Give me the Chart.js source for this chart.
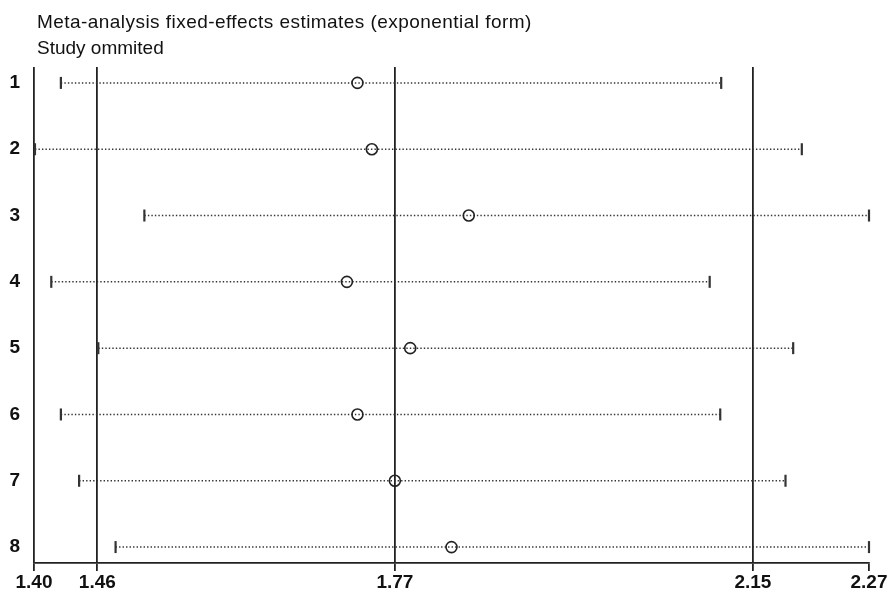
<!DOCTYPE html>
<html>
<head>
<meta charset="utf-8">
<script src="https://cdn.jsdelivr.net/npm/chart.js@4.4.1/dist/chart.umd.min.js"></script>
<style>
html,body{margin:0;padding:0;background:#fff;}
canvas{display:block;}
</style>
</head>
<body>
<canvas id="c" width="895" height="593"></canvas>
<script>
// Data
const studies   = ["1","2","3","4","5","6","7","8"];
const estimates = [1.737, 1.752, 1.853, 1.726, 1.792, 1.737, 1.776, 1.835];
const lowerCI   = [1.428, 1.401, 1.515, 1.418, 1.467, 1.428, 1.447, 1.485];
const upperCI   = [2.116, 2.200, 2.270, 2.104, 2.191, 2.115, 2.183, 2.270];
const xTickValues = [1.40, 1.466, 1.776, 2.149, 2.27];
const xTickLabels = ["1.40", "1.46", "1.77", "2.15", "2.27"];
const titleLines = ["Meta-analysis fixed-effects estimates (exponential form)", "Study ommited"];

const FONT = "'Liberation Sans', Arial, Helvetica, sans-serif";

const ciDatasets = studies.map((s, i) => ({
  type: 'line',
  label: 'CI ' + s,
  data: [{x: lowerCI[i], y: i + 1}, {x: upperCI[i], y: i + 1}],
  borderColor: '#333',
  borderWidth: 1.5,
  borderDash: [1.4, 2.1],
  pointRadius: 0,
  clip: false,
  order: 3
}));

const capData = [];
studies.forEach((s, i) => {
  capData.push({x: lowerCI[i], y: i + 1});
  capData.push({x: upperCI[i], y: i + 1});
});

const titlePlugin = {
  id: 'leftTitle',
  afterDraw(chart) {
    const ctx = chart.ctx;
    ctx.save();
    ctx.fillStyle = '#111';
    ctx.font = '19px ' + FONT;
    ctx.textBaseline = 'alphabetic';
    ctx.textAlign = 'left';
    ctx.letterSpacing = '0.45px';
    ctx.fillText(titleLines[0], 37, 28);
    ctx.letterSpacing = '0px';
    ctx.fillText(titleLines[1], 37, 54);
    ctx.restore();
  }
};

new Chart(document.getElementById('c'), {
  data: {
    datasets: [
      {
        type: 'scatter',
        label: 'Estimate',
        data: estimates.map((v, i) => ({x: v, y: i + 1})),
        pointStyle: 'circle',
        pointRadius: 5.5,
        pointBorderWidth: 1.6,
        pointBorderColor: '#222',
        pointBackgroundColor: 'rgba(255,255,255,0)',
        clip: false,
        order: 1
      },
      {
        type: 'scatter',
        label: 'Caps',
        data: capData,
        pointStyle: 'line',
        rotation: 90,
        pointRadius: 6,
        pointBorderWidth: 2.2,
        pointBorderColor: '#333',
        clip: false,
        order: 2
      },
      ...ciDatasets
    ]
  },
  options: {
    responsive: false,
    animation: false,
    events: [],
    layout: { padding: { top: 67, right: 26, left: 0, bottom: 0 } },
    plugins: {
      legend: { display: false },
      tooltip: { enabled: false },
      title: { display: false }
    },
    scales: {
      x: {
        type: 'linear',
        min: 1.40,
        max: 2.27,
        afterBuildTicks(scale) {
          scale.ticks = xTickValues.map(v => ({value: v}));
        },
        afterFit(scale) { scale.height = 30; },
        ticks: {
          autoSkip: false,
          maxRotation: 0,
          padding: 0,
          color: '#111',
          font: { family: FONT, size: 19, weight: 'bold' },
          callback: (v, i) => xTickLabels[i]
        },
        grid: {
          color: ctx => (ctx.index === xTickValues.length - 1 ? 'rgba(0,0,0,0)' : '#222'),
          lineWidth: 1.8,
          tickColor: '#222',
          tickLength: 8,
          drawTicks: true
        },
        border: { display: true, color: '#222', width: 1.8 }
      },
      y: {
        type: 'linear',
        min: 0.76,
        max: 8.24,
        reverse: true,
        afterBuildTicks(scale) {
          scale.ticks = studies.map((s, i) => ({value: i + 1}));
        },
        afterFit(scale) { scale.width = 34; },
        ticks: {
          autoSkip: false,
          padding: 14,
          color: '#111',
          font: { family: FONT, size: 19, weight: 'bold' },
          callback: (v, i) => studies[i]
        },
        grid: { display: false, drawTicks: false },
        border: { display: false }
      }
    }
  },
  plugins: [titlePlugin]
});
</script>
</body>
</html>
